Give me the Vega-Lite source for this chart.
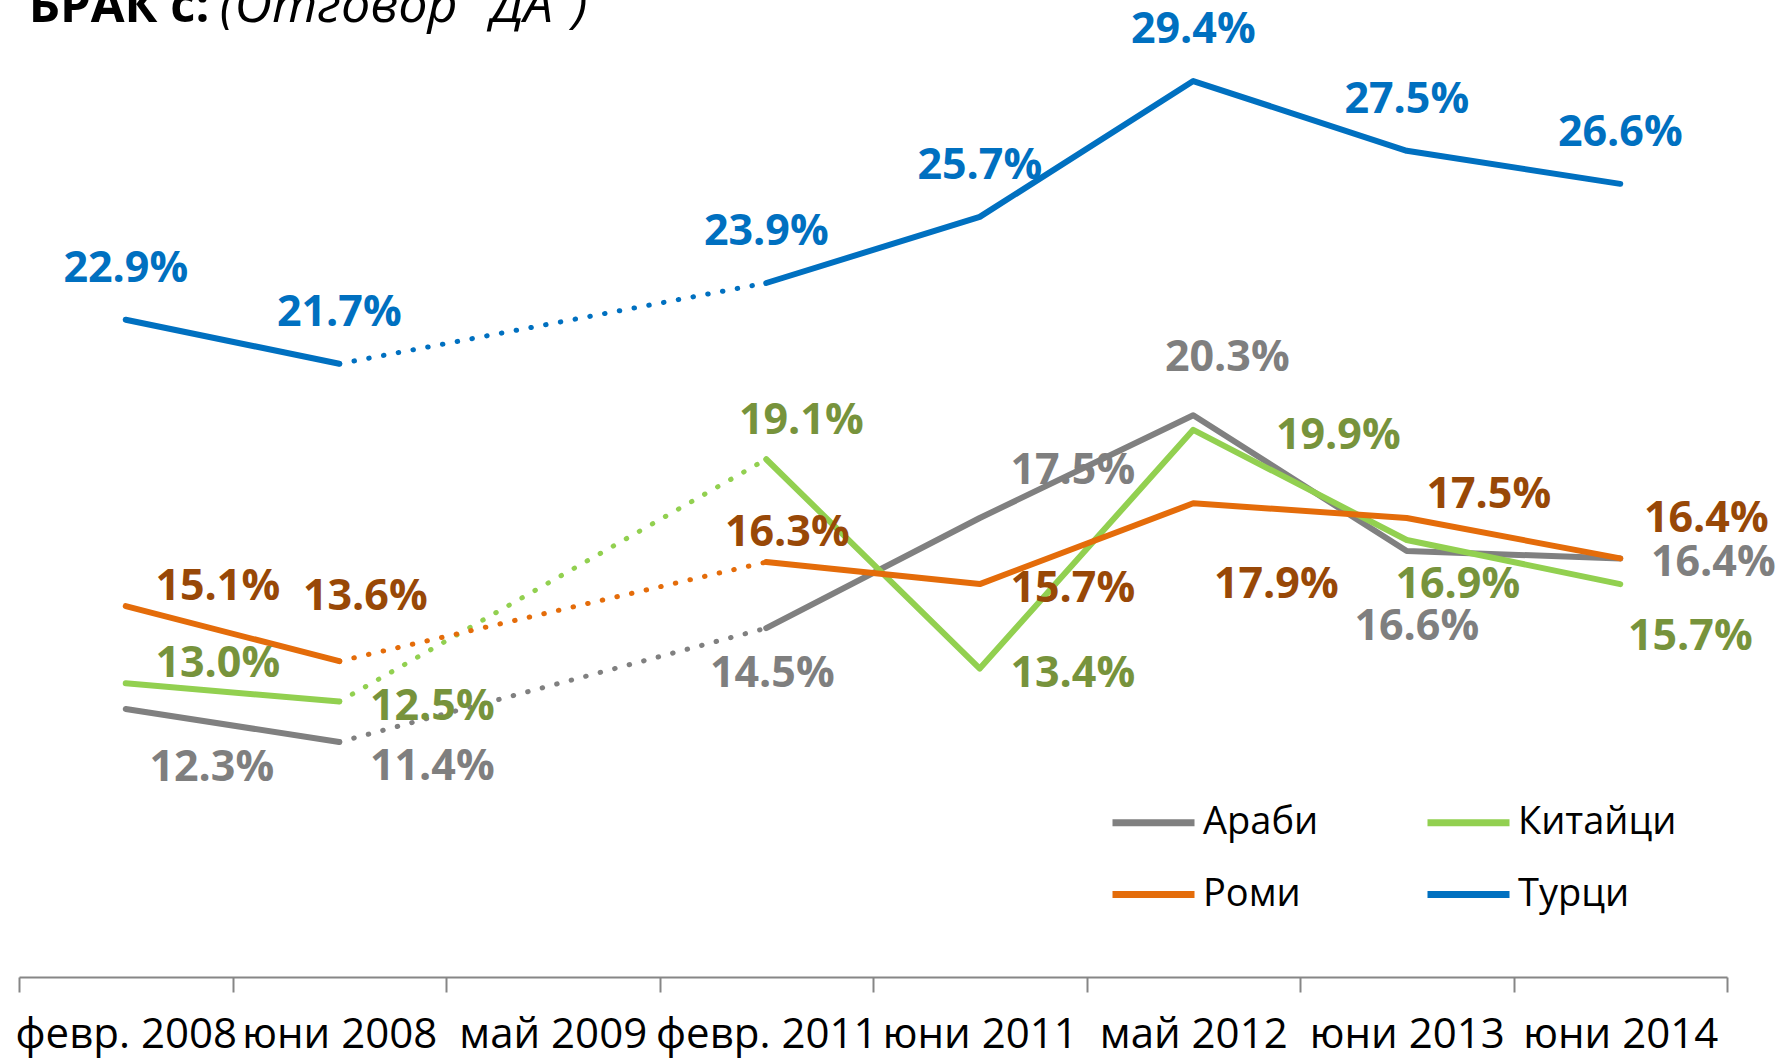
{
  "$schema": "https://vega.github.io/schema/vega-lite/v6.json",
  "width": 1708,
  "height": 918,
  "autosize": {"type": "none"},
  "padding": {"left": 19, "top": 59, "right": 64, "bottom": 82},
  "background": "white",
  "config": {
    "view": {"stroke": null},
    "font": "Open Sans"
  },
  "layer": [
    {
      "data": {
        "values": [
          {"series": "Турци", "date": "февр. 2008", "value": 22.9},
          {"series": "Турци", "date": "юни 2008", "value": 21.7},
          {"series": "Турци", "date": "февр. 2011", "value": 23.9},
          {"series": "Турци", "date": "юни 2011", "value": 25.7},
          {"series": "Турци", "date": "май 2012", "value": 29.4},
          {"series": "Турци", "date": "юни 2013", "value": 27.5},
          {"series": "Турци", "date": "юни 2014", "value": 26.6},
          {"series": "Араби", "date": "февр. 2008", "value": 12.3},
          {"series": "Араби", "date": "юни 2008", "value": 11.4},
          {"series": "Араби", "date": "февр. 2011", "value": 14.5},
          {"series": "Араби", "date": "юни 2011", "value": 17.5},
          {"series": "Араби", "date": "май 2012", "value": 20.3},
          {"series": "Араби", "date": "юни 2013", "value": 16.6},
          {"series": "Араби", "date": "юни 2014", "value": 16.4},
          {"series": "Китайци", "date": "февр. 2008", "value": 13.0},
          {"series": "Китайци", "date": "юни 2008", "value": 12.5},
          {"series": "Китайци", "date": "февр. 2011", "value": 19.1},
          {"series": "Китайци", "date": "юни 2011", "value": 13.4},
          {"series": "Китайци", "date": "май 2012", "value": 19.9},
          {"series": "Китайци", "date": "юни 2013", "value": 16.9},
          {"series": "Китайци", "date": "юни 2014", "value": 15.7},
          {"series": "Роми", "date": "февр. 2008", "value": 15.1},
          {"series": "Роми", "date": "юни 2008", "value": 13.6},
          {"series": "Роми", "date": "февр. 2011", "value": 16.3},
          {"series": "Роми", "date": "юни 2011", "value": 15.7},
          {"series": "Роми", "date": "май 2012", "value": 17.9},
          {"series": "Роми", "date": "юни 2013", "value": 17.5},
          {"series": "Роми", "date": "юни 2014", "value": 16.4}
        ]
      },
      "transform": [
        {"calculate": "(datum.date == 'февр. 2008' || datum.date == 'юни 2008') ? 'early' : 'late'", "as": "seg"},
        {"calculate": "format(datum.value, '.1f') + '%'", "as": "lbl"},
        {"calculate": "datum.series + '|' + datum.date", "as": "key"}
      ],
      "encoding": {
        "x": {
          "field": "date",
          "type": "ordinal",
          "sort": null,
          "scale": {
            "type": "band",
            "domain": ["февр. 2008", "юни 2008", "май 2009", "февр. 2011", "юни 2011", "май 2012", "юни 2013", "юни 2014"],
            "paddingInner": 0,
            "paddingOuter": 0
          },
          "axis": {
            "title": null,
            "domain": true,
            "domainColor": "#868686",
            "domainWidth": 2,
            "ticks": true,
            "tickBand": "extent",
            "tickSize": 15,
            "tickColor": "#868686",
            "tickWidth": 2,
            "labelFont": "Open Sans",
            "labelFontSize": 42,
            "labelColor": "#000000",
            "labelPadding": 22,
            "labelOverlap": false,
            "labelLimit": 0,
            "labelAngle": 0,
            "grid": false
          }
        },
        "y": {
          "field": "value",
          "type": "quantitative",
          "scale": {"domain": [5, 30], "nice": false, "zero": false},
          "axis": null
        }
      },
      "layer": [
        {
          "mark": {"type": "line", "strokeWidth": 6, "strokeCap": "round", "strokeJoin": "round"},
          "encoding": {
            "detail": {"field": "seg"},
            "color": {
              "field": "series",
              "type": "nominal",
              "scale": {
                "domain": ["Араби", "Китайци", "Роми", "Турци"],
                "range": ["#808080", "#92D050", "#E46C0A", "#0070C0"]
              },
              "legend": {
                "title": null,
                "orient": "none",
                "legendX": 1090,
                "legendY": 719,
                "columns": 2,
                "direction": "horizontal",
                "symbolType": "stroke",
                "symbolSize": 6724,
                "symbolStrokeWidth": 7,
                "labelFont": "Open Sans",
                "labelFontSize": 38,
                "labelColor": "#000000",
                "labelOffset": 5,
                "columnPadding": 94,
                "rowPadding": 8,
                "padding": 0
              }
            }
          }
        },
        {
          "transform": [{"filter": {"field": "date", "oneOf": ["юни 2008", "февр. 2011"]}}],
          "mark": {"type": "line", "strokeWidth": 5, "strokeCap": "round", "strokeDash": [0.5, 14.5]},
          "encoding": {
            "color": {"field": "series", "type": "nominal", "legend": null}
          }
        },
        {
          "encoding": {
            "text": {"field": "lbl", "type": "nominal"},
            "fill": {
              "field": "series",
              "type": "nominal",
              "scale": {
                "domain": ["Араби", "Китайци", "Роми", "Турци"],
                "range": ["#7F7F7F", "#77933C", "#984807", "#0070C0"]
              },
              "legend": null
            }
          },
          "layer": [
            {
              "transform": [{"filter": "datum.series == 'Турци'"}],
              "mark": {"type": "text", "font": "Open Sans", "fontWeight": "bold", "fontSize": 43, "align": "center", "baseline": "middle", "dx": 0, "dy": -51}
            },
            {
              "transform": [{"filter": {"field": "key", "oneOf": ["Араби|февр. 2008"]}}],
              "mark": {"type": "text", "font": "Open Sans", "fontWeight": "bold", "fontSize": 43, "align": "center", "baseline": "middle", "dx": 86, "dy": 59}
            },
            {
              "transform": [{"filter": {"field": "key", "oneOf": ["Араби|юни 2008"]}}],
              "mark": {"type": "text", "font": "Open Sans", "fontWeight": "bold", "fontSize": 43, "align": "center", "baseline": "middle", "dx": 93, "dy": 25}
            },
            {
              "transform": [{"filter": {"field": "key", "oneOf": ["Араби|февр. 2011"]}}],
              "mark": {"type": "text", "font": "Open Sans", "fontWeight": "bold", "fontSize": 43, "align": "center", "baseline": "middle", "dx": 6, "dy": 46}
            },
            {
              "transform": [{"filter": {"field": "key", "oneOf": ["Араби|юни 2011"]}}],
              "mark": {"type": "text", "font": "Open Sans", "fontWeight": "bold", "fontSize": 43, "align": "center", "baseline": "middle", "dx": 93, "dy": -47}
            },
            {
              "transform": [{"filter": {"field": "key", "oneOf": ["Араби|май 2012"]}}],
              "mark": {"type": "text", "font": "Open Sans", "fontWeight": "bold", "fontSize": 43, "align": "center", "baseline": "middle", "dx": 34, "dy": -57}
            },
            {
              "transform": [{"filter": {"field": "key", "oneOf": ["Араби|юни 2013"]}}],
              "mark": {"type": "text", "font": "Open Sans", "fontWeight": "bold", "fontSize": 43, "align": "center", "baseline": "middle", "dx": 10, "dy": 76}
            },
            {
              "transform": [{"filter": {"field": "key", "oneOf": ["Араби|юни 2014", "Китайци|юни 2008", "Китайци|юни 2011", "Роми|юни 2011"]}}],
              "mark": {"type": "text", "font": "Open Sans", "fontWeight": "bold", "fontSize": 43, "align": "center", "baseline": "middle", "dx": 93, "dy": 5}
            },
            {
              "transform": [{"filter": {"field": "key", "oneOf": ["Китайци|февр. 2008", "Роми|февр. 2008"]}}],
              "mark": {"type": "text", "font": "Open Sans", "fontWeight": "bold", "fontSize": 43, "align": "center", "baseline": "middle", "dx": 92, "dy": -19}
            },
            {
              "transform": [{"filter": {"field": "key", "oneOf": ["Китайци|февр. 2011"]}}],
              "mark": {"type": "text", "font": "Open Sans", "fontWeight": "bold", "fontSize": 43, "align": "center", "baseline": "middle", "dx": 35, "dy": -38}
            },
            {
              "transform": [{"filter": {"field": "key", "oneOf": ["Китайци|май 2012"]}}],
              "mark": {"type": "text", "font": "Open Sans", "fontWeight": "bold", "fontSize": 43, "align": "center", "baseline": "middle", "dx": 145, "dy": 6}
            },
            {
              "transform": [{"filter": {"field": "key", "oneOf": ["Китайци|юни 2013"]}}],
              "mark": {"type": "text", "font": "Open Sans", "fontWeight": "bold", "fontSize": 43, "align": "center", "baseline": "middle", "dx": 51, "dy": 45}
            },
            {
              "transform": [{"filter": {"field": "key", "oneOf": ["Китайци|юни 2014"]}}],
              "mark": {"type": "text", "font": "Open Sans", "fontWeight": "bold", "fontSize": 43, "align": "center", "baseline": "middle", "dx": 70, "dy": 53}
            },
            {
              "transform": [{"filter": {"field": "key", "oneOf": ["Роми|юни 2008"]}}],
              "mark": {"type": "text", "font": "Open Sans", "fontWeight": "bold", "fontSize": 43, "align": "center", "baseline": "middle", "dx": 26, "dy": -64}
            },
            {
              "transform": [{"filter": {"field": "key", "oneOf": ["Роми|февр. 2011"]}}],
              "mark": {"type": "text", "font": "Open Sans", "fontWeight": "bold", "fontSize": 43, "align": "center", "baseline": "middle", "dx": 21, "dy": -29}
            },
            {
              "transform": [{"filter": {"field": "key", "oneOf": ["Роми|май 2012"]}}],
              "mark": {"type": "text", "font": "Open Sans", "fontWeight": "bold", "fontSize": 43, "align": "center", "baseline": "middle", "dx": 83, "dy": 82}
            },
            {
              "transform": [{"filter": {"field": "key", "oneOf": ["Роми|юни 2013"]}}],
              "mark": {"type": "text", "font": "Open Sans", "fontWeight": "bold", "fontSize": 43, "align": "center", "baseline": "middle", "dx": 82, "dy": -23}
            },
            {
              "transform": [{"filter": {"field": "key", "oneOf": ["Роми|юни 2014"]}}],
              "mark": {"type": "text", "font": "Open Sans", "fontWeight": "bold", "fontSize": 43, "align": "center", "baseline": "middle", "dx": 86, "dy": -39}
            }
          ]
        }
      ]
    },
    {
      "data": {"values": [{"t": "БРАК с:"}]},
      "mark": {"type": "text", "font": "Open Sans", "fontWeight": "bold", "fontSize": 49, "align": "left", "baseline": "alphabetic", "dx": -97, "color": "#000000"},
      "encoding": {
        "x": {"datum": "февр. 2008", "type": "ordinal"},
        "y": {"datum": 31.02, "type": "quantitative"},
        "text": {"field": "t", "type": "nominal"}
      }
    },
    {
      "data": {"values": [{"t": "(Отговор \"ДА\")"}]},
      "mark": {"type": "text", "font": "Open Sans", "fontStyle": "italic", "fontSize": 52, "align": "left", "baseline": "alphabetic", "dx": 94, "color": "#000000"},
      "encoding": {
        "x": {"datum": "февр. 2008", "type": "ordinal"},
        "y": {"datum": 31.02, "type": "quantitative"},
        "text": {"field": "t", "type": "nominal"}
      }
    }
  ]
}
